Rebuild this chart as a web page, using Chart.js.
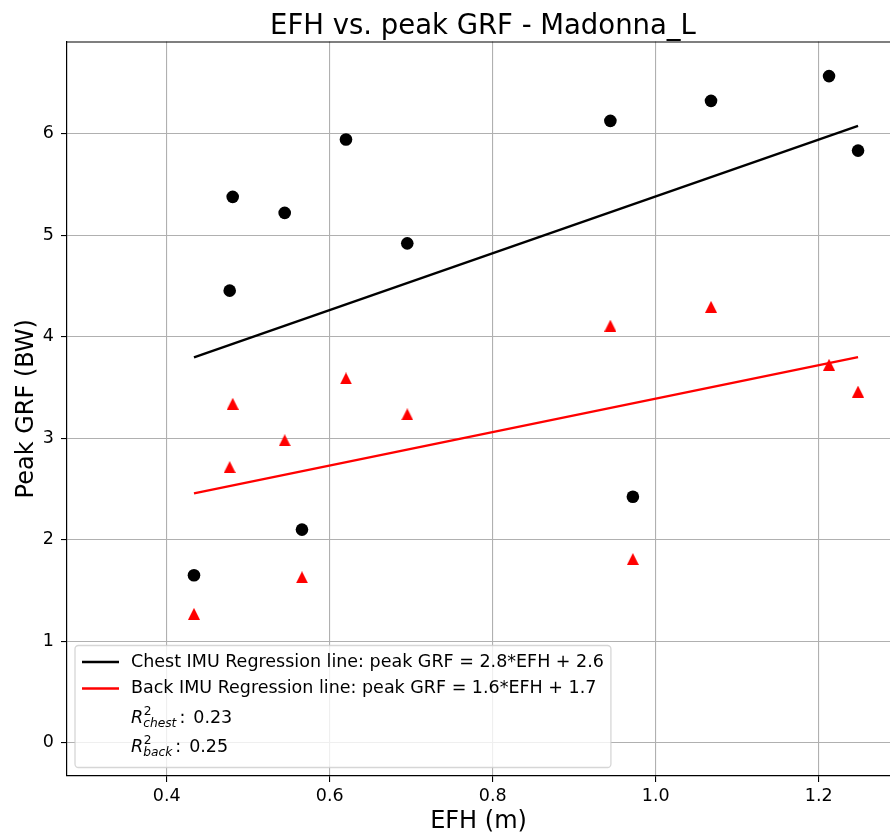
<!DOCTYPE html>
<html><head><meta charset="utf-8">
<script src="https://cdn.jsdelivr.net/npm/chart.js@4.4.1/dist/chart.umd.min.js"></script>
<style>html,body{margin:0;padding:0;background:#fff;overflow:hidden}</style>
</head><body>
<canvas id="c" width="890" height="839"></canvas>
<script>
const titleText = 'EFH vs. peak GRF - Madonna_L';
const xAxisLabel = 'EFH (m)';
const yAxisLabel = 'Peak GRF (BW)';
const efh      = [0.4335, 0.4773, 0.481, 0.5448, 0.566, 0.620, 0.6952, 0.9444, 0.972, 1.0679, 1.2127, 1.2483];
const chestGRF = [1.65, 4.455, 5.379, 5.221, 2.10, 5.944, 4.921, 6.128, 2.424, 6.325, 6.569, 5.835];
const backGRF  = [1.27, 2.716, 3.34, 2.98, 1.63, 3.59, 3.236, 4.11, 1.81, 4.295, 3.724, 3.46];
const lineEFH   = [0.4335, 1.2483];
const chestLine = [3.797, 6.079];
const backLine  = [2.457, 3.80];
const xTicks = [0.4, 0.6, 0.8, 1.0, 1.2];
const yTicks = [0, 1, 2, 3, 4, 5, 6];
const legendLines = ['Chest IMU Regression line: peak GRF = 2.8*EFH + 2.6', 'Back IMU Regression line: peak GRF = 1.6*EFH + 1.7'];
const r2Subs = ['chest', 'back'];
const r2Values = ['0.23', '0.25'];

const FAM = '"DejaVu Sans", sans-serif';
const TICK_FS = 17.5;

function triImage(size, color) {
  const c = document.createElement('canvas');
  c.width = size; c.height = size;
  const g = c.getContext('2d');
  g.fillStyle = color;
  g.beginPath();
  g.moveTo(size / 2, 0);
  g.lineTo(size, size);
  g.lineTo(0, size);
  g.closePath();
  g.fill();
  return c;
}

const framePlugin = {
  id: 'frame',
  afterLayout(chart) {
    // the original axes extend slightly past the right edge of the image; centre the title on them
    if (chart.titleBlock) { chart.titleBlock.right += 9; chart.titleBlock.width += 9; }
  },
  afterDraw(chart) {
    const ctx = chart.ctx, a = chart.chartArea;
    ctx.save();
    ctx.strokeStyle = '#000';
    ctx.lineWidth = 1.2;
    ctx.beginPath();
    ctx.moveTo(a.left, a.top + 0.5);
    ctx.lineTo(a.right, a.top + 0.5);
    ctx.stroke();
    ctx.restore();
  }
};

const legendPlugin = {
  id: 'mplLegend',
  afterDraw(chart) {
    const ctx = chart.ctx, a = chart.chartArea;
    const fs = TICK_FS;
    ctx.save();
    ctx.font = fs + 'px ' + FAM;
    const textX = a.left + 64;
    const maxW = Math.max(...legendLines.map(t => ctx.measureText(t).width));
    const left = a.left + 8, right = textX + maxW + 7;
    const bottom = a.bottom - 8.5, top = bottom - 122;
    const r = 3.5;
    ctx.beginPath();
    ctx.moveTo(left + r, top);
    ctx.lineTo(right - r, top);
    ctx.arcTo(right, top, right, top + r, r);
    ctx.lineTo(right, bottom - r);
    ctx.arcTo(right, bottom, right - r, bottom, r);
    ctx.lineTo(left + r, bottom);
    ctx.arcTo(left, bottom, left, bottom - r, r);
    ctx.lineTo(left, top + r);
    ctx.arcTo(left, top, left + r, top, r);
    ctx.closePath();
    ctx.fillStyle = 'rgba(255,255,255,0.8)';
    ctx.fill();
    ctx.strokeStyle = 'rgba(204,204,204,0.8)';
    ctx.lineWidth = 1.3;
    ctx.stroke();

    const rows = [top + 16.5, top + 43];
    const colors = [chart.data.datasets[2].borderColor, chart.data.datasets[3].borderColor];
    ctx.textBaseline = 'middle';
    ctx.textAlign = 'left';
    for (let i = 0; i < 2; i++) {
      ctx.strokeStyle = colors[i];
      ctx.lineWidth = 2.4;
      ctx.beginPath();
      ctx.moveTo(left + 7, rows[i]);
      ctx.lineTo(left + 44, rows[i]);
      ctx.stroke();
      ctx.fillStyle = '#000';
      ctx.fillText(legendLines[i], textX, rows[i]);
    }
    const baselines = [top + 77, top + 106];
    ctx.textBaseline = 'alphabetic';
    for (let i = 0; i < 2; i++) {
      const b = baselines[i];
      let x = textX;
      ctx.font = 'italic ' + fs + 'px ' + FAM;
      ctx.fillText('R', x, b);
      x += ctx.measureText('R').width;
      const sfs = fs * 0.7;
      ctx.font = sfs + 'px ' + FAM;
      ctx.fillText('2', x + 0.5, b - 7.5);
      const w2 = ctx.measureText('2').width + 0.5;
      ctx.font = 'italic ' + sfs + 'px ' + FAM;
      ctx.fillText(r2Subs[i], x, b + 4);
      const ws = ctx.measureText(r2Subs[i]).width;
      x += Math.max(w2, ws) + 3;
      ctx.font = fs + 'px ' + FAM;
      ctx.fillText(':', x, b);
      x += ctx.measureText(':').width + 8;
      ctx.fillText(r2Values[i], x, b);
    }
    ctx.restore();
  }
};

const ctx = document.getElementById('c').getContext('2d');
new Chart(ctx, {
  data: {
    datasets: [
      { type: 'scatter', data: efh.map((x, i) => ({ x, y: chestGRF[i] })), pointStyle: 'circle', pointRadius: 6.3, pointHoverRadius: 6.3, backgroundColor: '#000', borderColor: '#000', borderWidth: 0 },
      { type: 'scatter', data: efh.map((x, i) => ({ x, y: backGRF[i] })), pointStyle: triImage(12, '#ff0000'), pointRadius: 6, backgroundColor: '#ff0000', borderColor: '#ff0000', borderWidth: 0 },
      { type: 'line', data: lineEFH.map((x, i) => ({ x, y: chestLine[i] })), borderColor: '#000000', borderWidth: 2.4, pointRadius: 0, fill: false, tension: 0 },
      { type: 'line', data: lineEFH.map((x, i) => ({ x, y: backLine[i] })), borderColor: '#ff0000', borderWidth: 2.4, pointRadius: 0, fill: false, tension: 0 }
    ]
  },
  options: {
    responsive: false,
    animation: false,
    devicePixelRatio: 1,
    layout: { autoPadding: false, padding: 0 },
    plugins: {
      legend: { display: false },
      tooltip: { enabled: false },
      title: { display: true, fullSize: false, text: titleText, color: '#000', font: { family: FAM, size: 27.5, weight: 'normal', lineHeight: 1.1 }, padding: { top: 11.25, bottom: 0 } }
    },
    scales: {
      x: {
        type: 'linear', position: 'bottom', min: 0.2777, max: 1.2875,
        afterFit(s) { s.height = 63; s.paddingLeft = 0; s.paddingRight = 0; },
        afterBuildTicks(s) { s.ticks = xTicks.map(v => ({ value: v })); },
        ticks: { callback: v => Number(v).toFixed(1), color: '#000', font: { family: FAM, size: TICK_FS }, padding: 4, maxRotation: 0, minRotation: 0, autoSkip: false },
        grid: { color: '#b0b0b0', lineWidth: 1.1, tickColor: '#000', tickLength: 6, drawTicks: true },
        border: { color: '#000', width: 1.2 },
        title: { display: true, text: xAxisLabel, color: '#000', font: { family: FAM, size: 24, lineHeight: 1.2 }, padding: { top: 0, bottom: 3 } }
      },
      y: {
        type: 'linear', position: 'left', min: -0.328, max: 6.91,
        afterFit(s) { s.width = 67; s.paddingTop = 0; s.paddingBottom = 0; },
        afterBuildTicks(s) { s.ticks = yTicks.map(v => ({ value: v })); },
        ticks: { callback: v => String(Math.round(v)), color: '#000', font: { family: FAM, size: TICK_FS }, padding: 7, autoSkip: false },
        grid: { color: '#b0b0b0', lineWidth: 1.1, tickColor: '#000', tickLength: 6, drawTicks: true },
        border: { color: '#000', width: 1.2 },
        title: { display: true, text: yAxisLabel, color: '#000', font: { family: FAM, size: 24, lineHeight: 1.2 }, padding: { top: 12, bottom: 0 } }
      }
    }
  },
  plugins: [framePlugin, legendPlugin]
});
</script>
</body></html>
